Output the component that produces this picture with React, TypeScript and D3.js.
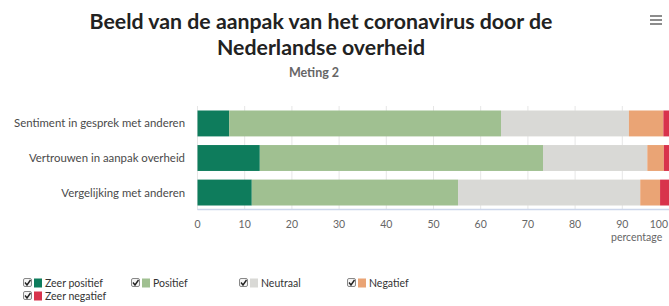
import React, { useEffect, useRef } from "react";
import * as d3 from "d3";

const categories = [
  "Sentiment in gesprek met anderen",
  "Vertrouwen in aanpak overheid",
  "Vergelijking met anderen",
];
const seriesNames = ["Zeer positief", "Positief", "Neutraal", "Negatief", "Zeer negatief"];
const zeerPositief = [6.7, 13.2, 11.5];
const positief = [57.6, 60.0, 43.7];
const neutraal = [27.1, 22.1, 38.6];
const negatief = [7.3, 3.5, 4.2];
const zeerNegatief = [1.3, 1.2, 2.0];
const xTicks = [0, 10, 20, 30, 40, 50, 60, 70, 80, 90, 100];
const colors = ["#0e7c5c", "#a0c091", "#d9d9d6", "#eaa475", "#d8334c"];

const App = () => {
  const svgRef = useRef<SVGSVGElement>(null);

  useEffect(() => {
    const width = 669;
    const height = 306;
    const font = "Lato, 'Open Sans', sans-serif";

    const svg = d3.select(svgRef.current);
    svg.selectAll("*").remove();
    svg.attr("width", width).attr("height", height);

    svg.append("rect").attr("width", width).attr("height", height).attr("fill", "#fff");

    const seriesValues = [zeerPositief, positief, neutraal, negatief, zeerNegatief];
    const rows = categories.map((c, i) => {
      const row: any = { category: c };
      seriesNames.forEach((s, j) => (row[s] = seriesValues[j][i]));
      return row;
    });
    const stacked = d3.stack().keys(seriesNames)(rows);

    const x = d3.scaleLinear().domain([0, 100]).range([197.5, 669.5]);
    const y = d3
      .scaleBand()
      .domain(categories)
      .range([106, 210])
      .paddingInner(0.25)
      .paddingOuter(0.13);

    // titles
    const title = svg.append("g").attr("font-family", font).attr("text-anchor", "middle");
    title
      .append("text")
      .attr("x", 321)
      .attr("y", 29)
      .attr("font-size", 21.3)
      .attr("font-weight", "bold")
      .attr("fill", "#222")
      .text("Beeld van de aanpak van het coronavirus door de");
    title
      .append("text")
      .attr("x", 321)
      .attr("y", 55)
      .attr("font-size", 21.3)
      .attr("font-weight", "bold")
      .attr("fill", "#222")
      .text("Nederlandse overheid");
    title
      .append("text")
      .attr("x", 314)
      .attr("y", 77)
      .attr("font-size", 12.5)
      .attr("font-weight", "bold")
      .attr("fill", "#666")
      .text("Meting 2");

    // menu icon
    [0, 1, 2].forEach((i) =>
      svg
        .append("line")
        .attr("x1", 650)
        .attr("x2", 662)
        .attr("y1", 16 + i * 4)
        .attr("y2", 16 + i * 4)
        .attr("stroke", "#666")
        .attr("stroke-width", 1.5)
    );

    // gridlines
    svg
      .append("g")
      .selectAll("line")
      .data(xTicks)
      .enter()
      .append("line")
      .attr("x1", (d) => x(d))
      .attr("x2", (d) => x(d))
      .attr("y1", 106)
      .attr("y2", 210)
      .attr("stroke", "#e6e6e6")
      .attr("stroke-width", 1);

    // bars
    svg
      .append("g")
      .selectAll("g")
      .data(stacked)
      .enter()
      .append("g")
      .attr("fill", (d, i) => colors[i])
      .selectAll("rect")
      .data((d) => d)
      .enter()
      .append("rect")
      .attr("x", (d) => x(d[0]))
      .attr("width", (d) => x(d[1]) - x(d[0]))
      .attr("y", (d: any) => y(d.data.category)!)
      .attr("height", y.bandwidth());

    // axis line
    svg
      .append("line")
      .attr("x1", x(0))
      .attr("x2", x(100))
      .attr("y1", 209.5)
      .attr("y2", 209.5)
      .attr("stroke", "#ccd6eb")
      .attr("stroke-width", 1.5);

    // x tick labels
    svg
      .append("g")
      .attr("font-family", font)
      .attr("font-size", 10.5)
      .attr("fill", "#666")
      .selectAll("text")
      .data(xTicks)
      .enter()
      .append("text")
      .attr("text-anchor", (d) => (d === 100 ? "end" : "middle"))
      .attr("x", (d) => (d === 100 ? 668 : x(d)))
      .attr("y", 228)
      .text((d) => d);

    svg
      .append("text")
      .attr("x", 611)
      .attr("y", 241)
      .attr("font-family", font)
      .attr("font-size", 10.5)
      .attr("fill", "#666")
      .text("percentage");

    // category labels
    svg
      .append("g")
      .attr("font-family", font)
      .attr("font-size", 11.4)
      .attr("fill", "#4a4a4a")
      .attr("text-anchor", "end")
      .selectAll("text")
      .data(categories)
      .enter()
      .append("text")
      .attr("x", 185)
      .attr("y", (d) => y(d)! + y.bandwidth() / 2)
      .attr("dy", "0.35em")
      .text((d) => d);

    // legend
    const legendPos = [
      [23, 283],
      [131, 283],
      [239, 283],
      [347, 283],
      [23, 296],
    ];
    const legend = svg.append("g").attr("font-family", font).attr("font-size", 10.5);
    seriesNames.forEach((name, i) => {
      const [lx, ly] = legendPos[i];
      const g = legend.append("g").attr("transform", `translate(${lx}, ${ly})`);
      g.append("rect")
        .attr("x", 0.5)
        .attr("y", -4.5)
        .attr("width", 8)
        .attr("height", 8)
        .attr("rx", 1.5)
        .attr("fill", "#f4f4f4")
        .attr("stroke", "#888");
      g.append("path")
        .attr("d", "M2,-0.5 L4,2 L7.5,-3")
        .attr("fill", "none")
        .attr("stroke", "#222")
        .attr("stroke-width", 1.4);
      g.append("rect").attr("x", 11).attr("y", -4.5).attr("width", 8).attr("height", 9).attr("fill", colors[i]);
      g.append("text").attr("x", 22).attr("y", 0).attr("dy", "0.35em").attr("fill", "#333").text(name);
    });
  }, []);

  return <svg ref={svgRef} style={{ position: "absolute", left: 0, top: 0 }}></svg>;
};

export default App;
